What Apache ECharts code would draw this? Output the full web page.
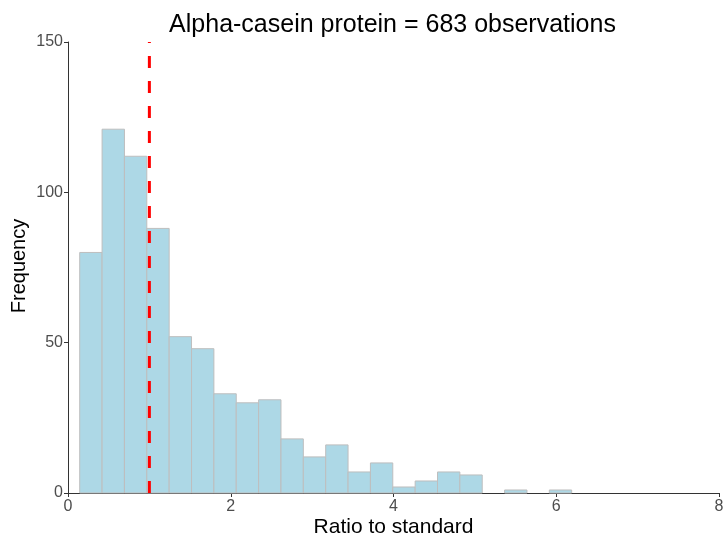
<!DOCTYPE html>
<html>
<head>
<meta charset="utf-8">
<script src="https://cdn.jsdelivr.net/npm/echarts@6/dist/echarts.min.js"></script>
<style>
html,body{margin:0;padding:0;background:#fff;}
#chart{width:723px;height:538px;}
</style>
</head>
<body>
<div id="chart"></div>
<script>
// Histogram bins (left edge of first bin, bin width) and counts
const binStart = 0.144;
const binWidth = 0.2748;
const counts = [80, 121, 112, 88, 52, 48, 33, 30, 31, 18, 12, 16, 7, 10, 2, 4, 7, 6, 0, 1, 0, 1];
const refLineX = 1;
const xTicks = [0, 2, 4, 6, 8];
const yTicks = [0, 50, 100, 150];
const titleText = 'Alpha-casein protein = 683 observations';
const xName = 'Ratio to standard';
const yName = 'Frequency';

const bins = counts.map((c, i) => [binStart + i * binWidth, binStart + (i + 1) * binWidth, c]);
const FONT = "'Liberation Sans', Arial, sans-serif";

const chart = echarts.init(document.getElementById('chart'), null, {renderer: 'canvas'});
chart.setOption({
  backgroundColor: '#ffffff',
  animation: false,
  graphic: [
    {
      type: 'text', x: 392.5, y: 25,
      style: {text: titleText, font: "25px 'Liberation Sans', Arial, sans-serif", fill: '#000',
              textAlign: 'center', textVerticalAlign: 'middle'}
    },
    {
      type: 'text', x: 393.5, y: 527,
      style: {text: xName, font: "21px 'Liberation Sans', Arial, sans-serif", fill: '#000',
              textAlign: 'center', textVerticalAlign: 'middle'}
    },
    {
      type: 'text', x: 19.5, y: 266, rotation: Math.PI / 2,
      style: {text: yName, font: "20px 'Liberation Sans', Arial, sans-serif", fill: '#000',
              textAlign: 'center', textVerticalAlign: 'middle'}
    }
  ],
  grid: {left: 68, right: 4, top: 42, bottom: 45, containLabel: false, outerBoundsMode: 'none'},
  xAxis: {
    type: 'value', min: xTicks[0], max: xTicks[xTicks.length - 1], interval: 2,
    axisLine: {show: true, lineStyle: {color: '#333', width: 1}},
    axisTick: {show: true, length: 4, lineStyle: {color: '#333', width: 1}},
    axisLabel: {fontFamily: FONT, fontSize: 16, color: '#4D4D4D', margin: 6},
    splitLine: {show: false}
  },
  yAxis: {
    type: 'value', min: yTicks[0], max: yTicks[yTicks.length - 1], interval: 50,
    axisLine: {show: true, lineStyle: {color: '#333', width: 1}},
    axisTick: {show: true, length: 4, lineStyle: {color: '#333', width: 1}},
    axisLabel: {fontFamily: FONT, fontSize: 16, color: '#4D4D4D', margin: 5},
    splitLine: {show: false}
  },
  series: [
    {
      type: 'custom',
      data: bins,
      renderItem: function (params, api) {
        const p0 = api.coord([api.value(0), 0]);
        const p1 = api.coord([api.value(1), api.value(2)]);
        if (api.value(2) <= 0) return null;
        return {
          type: 'rect',
          shape: {x: p0[0], y: p1[1], width: p1[0] - p0[0], height: p0[1] - p1[1]},
          style: {fill: '#ADD8E6', stroke: '#BEBEBE', lineWidth: 1}
        };
      },
      encode: {x: [0, 1], y: 2}
    },
    {
      type: 'line',
      data: [[refLineX, yTicks[0]], [refLineX, yTicks[yTicks.length - 1]]],
      symbol: 'none',
      lineStyle: {color: '#FF0000', width: 3, type: [12, 13]},
      z: 5
    }
  ]
});
</script>
</body>
</html>
